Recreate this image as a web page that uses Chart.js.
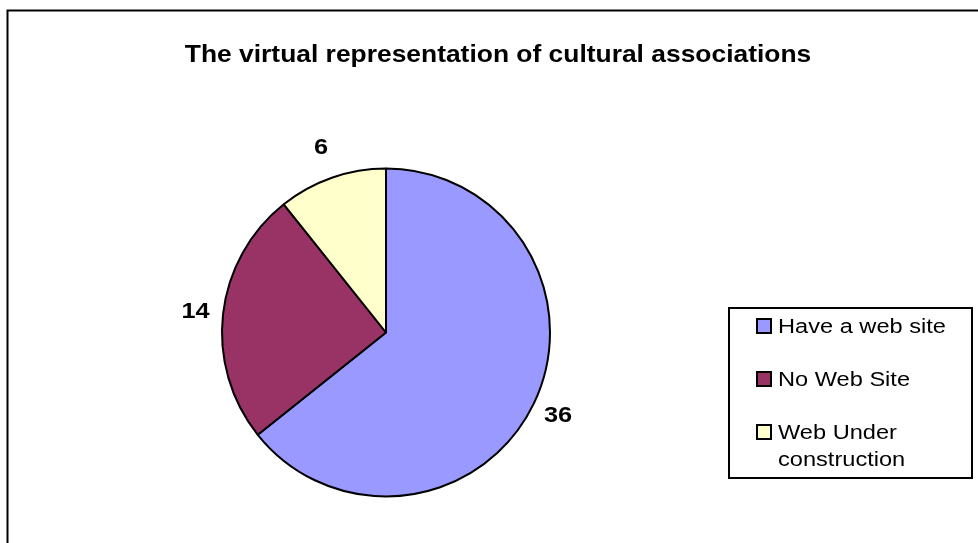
<!DOCTYPE html>
<html>
<head>
<meta charset="utf-8">
<script src="https://cdn.jsdelivr.net/npm/chart.js@4.4.0/dist/chart.umd.min.js"></script>
<style>
  html, body { margin: 0; padding: 0; background: #fff; }
  #wrap { width: 978px; height: 543px; position: relative; }
</style>
</head>
<body>
<div id="wrap"><canvas id="pie"></canvas></div>
<script>
/*********************************
 DATA
*********************************/
const chartTitle = "The virtual representation of cultural associations";
const categories = ["Have a web site", "No Web Site", "Web Under construction"];
const counts = [36, 14, 6];

/*********************************
 HELPERS
*********************************/
// Excel text here looks a bit wider than Liberation Sans, so stretch it
function stretchedText(ctx, text, x, y, sx, align) {
  ctx.save();
  ctx.translate(x, y);
  ctx.scale(sx, 1);
  ctx.textAlign = align;
  ctx.fillText(text, 0, 0);
  ctx.restore();
}

function wrapWords(ctx, text, maxW, sx) {
  const words = text.split(" ");
  const lines = [];
  let line = "";
  words.forEach(w => {
    const test = line ? line + " " + w : w;
    if (ctx.measureText(test).width * sx > maxW && line) {
      lines.push(line);
      line = w;
    } else {
      line = test;
    }
  });
  lines.push(line);
  return lines;
}

/*********************************
 PLUGINS
*********************************/
const frame = {
  id: "frame",
  beforeDraw(chart) {
    const ctx = chart.ctx;
    ctx.save();
    ctx.fillStyle = "#fff";
    ctx.fillRect(0, 0, chart.width, chart.height);
    ctx.strokeStyle = "#000";
    ctx.lineWidth = 2;
    ctx.strokeRect(7.5, 10.5, 1100, 700);

    ctx.fillStyle = "#000";
    ctx.font = "bold 24px 'Liberation Sans', Arial, sans-serif";
    ctx.textBaseline = "alphabetic";
    stretchedText(ctx, chartTitle, 498, 62, 1.1, "center");
    ctx.restore();
  }
};

const sliceLabels = {
  id: "sliceLabels",
  afterDatasetsDraw(chart) {
    const ctx = chart.ctx;
    const meta = chart.getDatasetMeta(0);
    ctx.save();
    ctx.fillStyle = "#000";
    ctx.font = "bold 22px 'Liberation Sans', Arial, sans-serif";
    ctx.textBaseline = "middle";
    meta.data.forEach((arc, i) => {
      const p = arc.getProps(["x", "y", "startAngle", "endAngle", "outerRadius"], true);
      const mid = (p.startAngle + p.endAngle) / 2;
      // small slices near the top sit a bit further out, like Excel does
      const r = p.outerRadius + 27 + Math.max(0, -Math.sin(mid)) * 6;
      stretchedText(ctx, String(counts[i]), p.x + Math.cos(mid) * r, p.y + Math.sin(mid) * r + 1, 1.15, "center");
    });
    ctx.restore();
  }
};

const boxLegend = {
  id: "boxLegend",
  afterDraw(chart) {
    const ctx = chart.ctx;
    const ds = chart.data.datasets[0];
    ctx.save();
    ctx.strokeStyle = "#000";
    ctx.lineWidth = 2;
    ctx.strokeRect(729, 308, 243, 170);

    ctx.font = "20px 'Liberation Sans', Arial, sans-serif";
    ctx.textBaseline = "alphabetic";
    let y = 333;
    categories.forEach((name, i) => {
      ctx.fillStyle = ds.backgroundColor[i];
      ctx.fillRect(757, y - 14, 14, 14);
      ctx.lineWidth = 2;
      ctx.strokeRect(757, y - 14, 14, 14);
      ctx.fillStyle = "#000";
      const lines = wrapWords(ctx, name, 186, 1.18);
      lines.forEach((ln, k) => {
        stretchedText(ctx, ln, 778, y + k * 27, 1.18, "left");
      });
      y += 53 + (lines.length - 1) * 27;
    });
    ctx.restore();
  }
};

/*********************************
 CHART
*********************************/
new Chart(document.getElementById("pie"), {
  type: "pie",
  data: {
    labels: categories,
    datasets: [{
      data: counts,
      backgroundColor: ["#9999ff", "#993366", "#ffffcc"],
      borderColor: "#000",
      borderWidth: 2,
      hoverOffset: 0,
      radius: 164
    }]
  },
  options: {
    responsive: true,
    maintainAspectRatio: false,
    animation: false,
    layout: { padding: { left: 200, right: 406, top: 150, bottom: 28 } },
    plugins: {
      legend: { display: false },
      title: { display: false },
      tooltip: { enabled: false }
    }
  },
  plugins: [frame, sliceLabels, boxLegend]
});
</script>
</body>
</html>
